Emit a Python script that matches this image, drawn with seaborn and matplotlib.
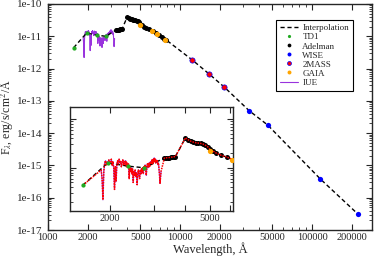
import numpy as np
import pandas as pd
import matplotlib
matplotlib.use("Agg")
import matplotlib.pyplot as plt
import matplotlib.ticker as mticker
import seaborn as sns

# photometry / spectrophotometry (wavelength in A, flux in erg/s/cm2/A)
td1_wave = [1565, 1965, 2365, 2740]
td1_flux = [4.4e-12, 1.26e-11, 1.08e-11, 1.0e-11]

adel_wave = [3300, 3350, 3400, 3450, 3500, 3550, 3600, 3650, 4000, 4100, 4200, 4300,
             4400, 4500, 4600, 4700, 4800, 4900, 5000, 5150, 5300, 5550, 5850, 6200,
             6550, 6900, 7250, 7600, 7900]
adel_flux = [1.58e-11, 1.60e-11, 1.62e-11, 1.62e-11, 1.64e-11, 1.66e-11, 1.68e-11, 1.70e-11,
             4.1e-11, 3.75e-11, 3.5e-11, 3.35e-11, 3.25e-11, 3.2e-11, 3.15e-11, 3.05e-11,
             2.9e-11, 2.7e-11, 2.4e-11, 2.2e-11, 2.0e-11, 1.8e-11, 1.65e-11, 1.45e-11,
             1.25e-11, 1.08e-11, 0.96e-11, 0.84e-11, 0.76e-11]

gaia_wave = [5000, 6150, 6700, 7700]
gaia_flux = [2.2e-11, 1.47e-11, 1.15e-11, 7.8e-12]

tmass_wave = [12350, 16620, 21590]
tmass_flux = [1.87e-12, 6.8e-13, 2.7e-13]

wise_wave = [33526, 46028, 115608, 220883]
wise_flux = [4.9e-14, 1.8e-14, 3.8e-16, 3.2e-17]

iue_wave = [1850, 1865, 1880, 1895, 1910, 1925, 1940, 1955, 1970, 1985, 2000, 2015,
            2030, 2045, 2060, 2075, 2090, 2105, 2120, 2135, 2150, 2165, 2180, 2195,
            2210, 2225, 2240, 2255, 2270, 2285, 2300, 2315, 2330, 2345, 2360, 2375,
            2390, 2405, 2420, 2435, 2450, 2465, 2480, 2495, 2510, 2525, 2540, 2555,
            2570, 2585, 2600, 2615, 2630, 2645, 2660, 2675, 2690, 2705, 2720, 2735,
            2750, 2765, 2780, 2795, 2810, 2825, 2840, 2855, 2870, 2885, 2900, 2915,
            2930, 2945, 2960, 2975, 2990, 3005, 3020, 3035, 3050, 3065, 3080, 3095,
            3110, 3125, 3140, 3155, 3170, 3185, 3200]
iue_flux_e12 = [9.0, 6.0, 2.2, 8.5, 12.5, 14.0, 11.5, 13.5, 12.0, 14.5, 12.5, 13.0,
                15.0, 11.0, 13.5, 10.0, 3.6, 10.5, 5.2, 11.5, 14.0, 12.0, 15.0, 12.5,
                13.5, 10.5, 13.0, 14.5, 11.5, 13.5, 12.0, 14.0, 10.5, 12.5, 11.0, 12.0,
                6.0, 10.5, 8.5, 10.0, 7.5, 9.5, 5.0, 8.5, 7.0, 9.0, 6.5, 8.0,
                4.5, 7.5, 9.0, 7.0, 6.0, 9.0, 7.5, 9.5, 8.0, 10.0, 7.5, 10.5,
                9.0, 11.5, 9.5, 7.0, 10.5, 12.0, 10.0, 12.5, 10.5, 13.0, 11.0, 13.5,
                12.0, 14.5, 12.0, 15.0, 13.0, 16.0, 13.5, 15.0, 12.5, 14.5, 13.0, 14.0,
                11.5, 12.5, 9.5, 7.0, 4.8, 6.5, 8.5]
iue_flux = [v * 1e-12 for v in iue_flux_e12]

main_xticks = [1000, 2000, 5000, 10000, 20000, 50000, 100000, 200000]

# dashed interpolation through the photometric points
interp = pd.DataFrame({
    "wave": td1_wave + adel_wave + tmass_wave + wise_wave,
    "flux": td1_flux + adel_flux + tmass_flux + wise_flux,
}).sort_values("wave")

# combined curve shown in red in the inset
combo = pd.DataFrame({
    "wave": td1_wave[:1] + iue_wave + adel_wave,
    "flux": td1_flux[:1] + iue_flux + adel_flux,
})

sns.set_theme(style="ticks")
plt.rcParams["font.family"] = ["Liberation Serif", "DejaVu Serif"]
plt.rcParams["mathtext.fontset"] = "stix"
plt.rcParams["axes.linewidth"] = 1.0

fig = plt.figure(figsize=(3.74, 2.58), dpi=100)
ax = fig.add_axes([0.128, 0.1085, 0.867, 0.876])


def draw_sed(a, inset=False):
    ms = 3.6
    sns.lineplot(x=iue_wave, y=iue_flux, ax=a, color="#9933dd", lw=0.8,
                 estimator=None, sort=False, label="IUE", zorder=2)
    if inset:
        sns.lineplot(data=combo, x="wave", y="flux", ax=a, color="red", lw=1.1,
                     linestyle=(0, (1, 0.7)), estimator=None, sort=False, zorder=5)
    a.plot(interp["wave"], interp["flux"], color="black", lw=1.0,
           dashes=(3, 2), label="Interpolation", zorder=3)
    a.plot(td1_wave, td1_flux, "o", color="#22aa22", ms=ms * 0.85, mew=0,
           label="TD1", zorder=6)
    a.plot(adel_wave, adel_flux, "o", color="black", ms=ms, mew=0,
           label="Adelman", zorder=4)
    a.plot(wise_wave, wise_flux, "o", color="blue", ms=ms * 1.05, mew=0,
           label="WISE", zorder=6)
    a.plot(tmass_wave, tmass_flux, "o", color="red", mec="blue", ms=ms * 1.05,
           mew=0.5, label="2MASS", zorder=6)
    a.plot(gaia_wave, gaia_flux, "o", color="orange", ms=ms * 1.05, mew=0,
           label="GAIA", zorder=6)


draw_sed(ax)
ax.set_xscale("log")
ax.set_yscale("log")
ax.set_xlim(1000, 285000)
ax.set_ylim(1e-17, 1e-10)
ax.xaxis.set_major_locator(mticker.FixedLocator(main_xticks))
ax.xaxis.set_major_formatter(mticker.FixedFormatter([str(t) for t in main_xticks]))
ax.xaxis.set_minor_locator(mticker.LogLocator(base=10, subs=np.arange(2, 10)))
ax.xaxis.set_minor_formatter(mticker.NullFormatter())
ax.yaxis.set_major_locator(mticker.LogLocator(base=10, numticks=20))
ax.yaxis.set_major_formatter(mticker.FuncFormatter(lambda v, p: "1e%d" % round(np.log10(v))))
ax.yaxis.set_minor_locator(mticker.LogLocator(base=10, subs=np.arange(2, 10), numticks=20))
ax.tick_params(which="both", direction="in", top=True, right=True)
ax.tick_params(axis="x", labelsize=7.5, pad=2)
ax.tick_params(axis="y", labelsize=8, pad=4)
ax.tick_params(which="major", length=4, width=0.8)
ax.tick_params(which="minor", length=2, width=0.6)
ax.set_xlabel("Wavelength, Å", fontsize=9, labelpad=0)
ax.set_ylabel(r"F$_{\lambda}$, erg/s/cm$^{2}$/Å", fontsize=8.5, labelpad=1)

handles, labels = ax.get_legend_handles_labels()
order = ["Interpolation", "TD1", "Adelman", "WISE", "2MASS", "GAIA", "IUE"]
hmap = dict(zip(labels, handles))
leg = ax.legend([hmap[k] for k in order], order, loc="upper right",
                bbox_to_anchor=(0.941, 0.929), fontsize=6.5, frameon=True,
                fancybox=False, framealpha=1, edgecolor="black",
                labelspacing=0.08, handlelength=2.0, handletextpad=0.5,
                borderpad=0.45, borderaxespad=0, markerscale=0.75)
leg.get_frame().set_linewidth(0.8)

# inset zoom on the UV/optical part
axin = fig.add_axes([0.187, 0.182, 0.436, 0.403])
draw_sed(axin, inset=True)
if axin.get_legend() is not None:
    axin.get_legend().remove()
axin.set_xscale("log")
axin.set_yscale("log")
axin.set_xlim(1390, 6180)
axin.set_ylim(1.3e-12, 1.75e-10)
axin.xaxis.set_major_locator(mticker.FixedLocator([2000, 5000]))
axin.xaxis.set_major_formatter(mticker.FixedFormatter(["2000", "5000"]))
axin.xaxis.set_minor_locator(mticker.FixedLocator([3000, 4000, 6000]))
axin.xaxis.set_minor_formatter(mticker.NullFormatter())
axin.yaxis.set_major_locator(mticker.LogLocator(base=10, numticks=10))
axin.yaxis.set_minor_locator(mticker.LogLocator(base=10, subs=np.arange(2, 10), numticks=10))
axin.yaxis.set_major_formatter(mticker.NullFormatter())
axin.yaxis.set_minor_formatter(mticker.NullFormatter())
axin.tick_params(which="both", direction="in", top=True, right=True, labelsize=7.5, pad=2)
axin.tick_params(axis="x", which="both", length=4, width=0.8)
axin.tick_params(axis="y", which="major", length=4, width=0.8)
axin.tick_params(axis="y", which="minor", length=2, width=0.6)
axin.set_xlabel("")
axin.set_ylabel("")

fig.savefig("out.png", dpi=100)
